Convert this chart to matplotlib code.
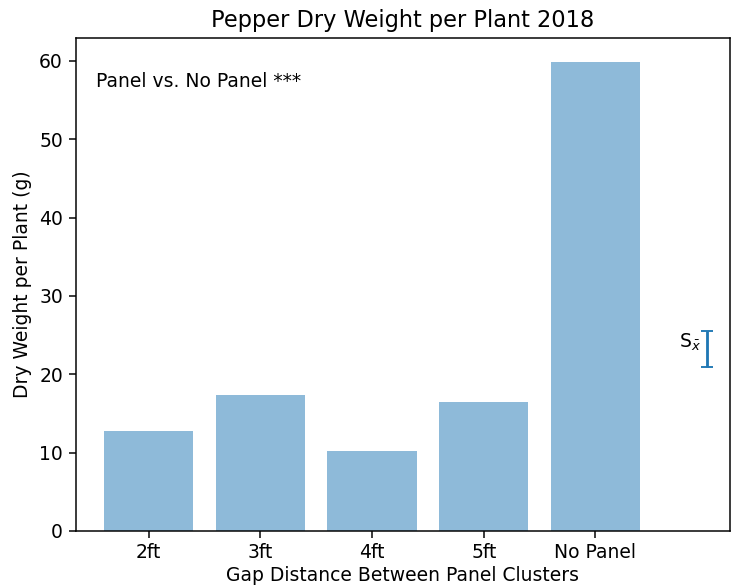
import numpy as np
from matplotlib import pyplot as plt

gaps = ["2ft", "3ft", "4ft", "5ft", "No Panel"]
weights = [12.8, 17.4, 10.2, 16.5, 59.9]
se_center = 23.2
se_half = 2.3

x = np.arange(len(gaps))

fig, ax = plt.subplots(figsize=(731 / 135, 588 / 135), dpi=135)
ax.bar(x, weights, align="center", alpha=0.5)
ax.errorbar(len(gaps), se_center, yerr=se_half, capsize=3)
ax.text(len(gaps) - 0.25, se_center + 0.2, r"S$_{\bar{x}}$")
ax.text(0.03, 0.90, "Panel vs. No Panel ***", transform=ax.transAxes)
ax.set_xticks(x)
ax.set_xticklabels(gaps)
ax.tick_params(axis="x", pad=3)
ax.set_xlim(-0.65, 5.2)
ax.set_ylabel("Dry Weight per Plant (g)")
ax.set_xlabel("Gap Distance Between Panel Clusters", labelpad=2)
ax.set_title("Pepper Dry Weight per Plant 2018")
plt.subplots_adjust(left=0.104, right=0.998, top=0.935, bottom=0.097)
plt.savefig("out.png")
